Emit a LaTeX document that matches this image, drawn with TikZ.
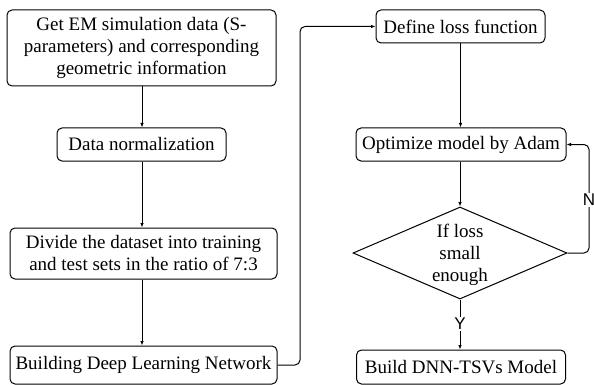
\documentclass[tikz,border=0pt]{standalone}
\usepackage{fontspec}
\setmainfont{Liberation Serif}
\setsansfont{Liberation Sans}
\usetikzlibrary{shapes.geometric,arrows.meta}
\begin{document}
\begin{tikzpicture}[x=1pt,y=-1pt,
  every node/.style={font=\fontsize{19}{22}\selectfont},
  box/.style={draw,rounded corners=5pt,line width=1pt,inner sep=0pt,align=center},
  conn/.style={draw,line width=1pt,-{Latex[length=4.5pt,width=3.5pt]}},
  yn/.style={fill=white,inner sep=1pt,font=\sffamily\fontsize{17}{20}\selectfont}]
\useasboundingbox (0,0) rectangle (594,385);
% left column
\node[box,minimum width=269pt,minimum height=76pt] (b1) at (141.5,48) {Get EM simulation data (S-\\parameters) and corresponding\\geometric information};
\node[box,minimum width=169pt,minimum height=33pt] (b2) at (141.5,144.5) {Data normalization};
\node[box,minimum width=267pt,minimum height=51pt] (b3) at (143.5,253.5) {Divide the dataset into training\\and test sets in the ratio of 7:3};
\node[box,minimum width=267pt,minimum height=38pt] (b4) at (143.5,365) {Building Deep Learning Network};
% right column
\node[box,minimum width=169pt,minimum height=33pt] (d) at (460.5,26.5) {Define loss function};
\node[box,minimum width=210pt,minimum height=33pt] (o) at (461,144.5) {Optimize model by Adam};
\node[draw,diamond,line width=1pt,minimum width=214pt,minimum height=92pt,inner sep=0pt] (dia) at (460,253) {};
\node[align=center,inner sep=0pt] (diat) at (460,254.5) {If loss\\small\\enough};
\node[box,minimum width=209pt,minimum height=34pt] (bm) at (461,367) {Build DNN-TSVs Model};
% coordinates
\coordinate (c1) at (300,365);
\coordinate (c2) at (300,26.5);
\coordinate (n1) at (589,253);
\coordinate (n2) at (589,144.5);
% connectors
\draw[conn] (b1.south -| 142,0) -- (b2.north -| 142,0);
\draw[conn] (b2.south -| 142,0) -- (b3.north -| 142,0);
\draw[conn] (b3.south -| 142,0) -- (b4.north -| 142,0);
\draw[conn,rounded corners=5pt] (b4.east) -- (c1) -- (c2) -- (d.west);
\draw[conn] (d.south -| 460.5,0) -- (o.north -| 460.5,0);
\draw[conn] (o.south -| 460,0) -- (dia.north);
\draw[conn,rounded corners=5pt] (dia.east) -- (n1) -- (n2) -- (o.east);
\node[yn] (nl) at (589,200) {N};
\draw[conn] (dia.south) -- (bm.north -| dia.south);
\node[yn] (yl) at (460,324) {Y};
\end{tikzpicture}
\end{document}
